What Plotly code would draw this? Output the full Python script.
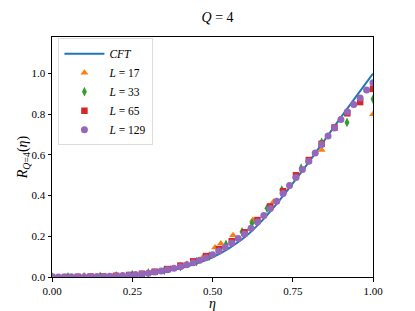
import plotly.graph_objects as go

# CFT curve
eta_cft = [0.00, 0.05, 0.10, 0.15, 0.20, 0.25, 0.30, 0.35, 0.40, 0.45, 0.50,
           0.55, 0.60, 0.65, 0.70, 0.75, 0.80, 0.85, 0.90, 0.95, 1.00]
r_cft = [0.0, 0.0002, 0.0008, 0.002, 0.0045, 0.009, 0.016, 0.027, 0.043, 0.066, 0.097,
         0.14, 0.195, 0.27, 0.36, 0.46, 0.565, 0.675, 0.785, 0.893, 1.0]

# L = 17
eta_17 = [0.00, 0.06, 0.125, 0.19, 0.25, 0.31, 0.37, 0.42, 0.47, 0.508, 0.526, 0.564,
          0.626, 0.69, 0.84, 1.00]
r_17 = [0.000, 0.000, 0.002, 0.005, 0.011, 0.022, 0.041, 0.065, 0.097, 0.145, 0.165, 0.205,
        0.280, 0.370, 0.625, 0.800]

# L = 33
eta_33 = [0.00, 0.05, 0.10, 0.15, 0.20, 0.25, 0.30, 0.35, 0.40, 0.45, 0.49, 0.542,
          0.592, 0.623, 0.67, 0.716, 0.776, 0.84, 0.919, 1.00]
r_33 = [0.000, 0.000, 0.001, 0.003, 0.006, 0.011, 0.020, 0.033, 0.051, 0.076, 0.103, 0.160,
        0.222, 0.265, 0.338, 0.428, 0.535, 0.662, 0.760, 0.875]

# L = 65
eta_65 = [0.00, 0.04, 0.08, 0.12, 0.16, 0.20, 0.24, 0.28, 0.32, 0.36, 0.40, 0.44, 0.48,
          0.52, 0.56, 0.60, 0.64, 0.68, 0.72, 0.76, 0.80, 0.84, 0.88, 0.92, 0.96, 1.00]
r_65 = [0.000, 0.000, 0.001, 0.002, 0.003, 0.006, 0.010, 0.016, 0.026, 0.039, 0.056, 0.077,
        0.103, 0.137, 0.176, 0.220, 0.280, 0.347, 0.422, 0.500, 0.575, 0.655, 0.735, 0.805,
        0.860, 0.925]

# L = 129
eta_129 = [0.00, 0.02, 0.04, 0.06, 0.08, 0.10, 0.12, 0.14, 0.16, 0.18, 0.20, 0.22, 0.24,
           0.26, 0.28, 0.30, 0.32, 0.34, 0.36, 0.38, 0.40, 0.42, 0.44, 0.46, 0.48, 0.50,
           0.52, 0.54, 0.56, 0.58, 0.60, 0.62, 0.64, 0.66, 0.68, 0.70, 0.72, 0.74, 0.76,
           0.78, 0.80, 0.82, 0.84, 0.86, 0.88, 0.90, 0.92, 0.94, 0.96, 0.98, 1.00]
r_129 = [0.000, 0.000, 0.000, 0.001, 0.001, 0.001, 0.002, 0.002, 0.003, 0.004, 0.005, 0.007,
         0.009, 0.012, 0.015, 0.019, 0.024, 0.030, 0.036, 0.043, 0.051, 0.060, 0.070, 0.082,
         0.095, 0.110, 0.128, 0.146, 0.167, 0.189, 0.211, 0.240, 0.270, 0.302, 0.337, 0.372,
         0.411, 0.450, 0.489, 0.529, 0.569, 0.610, 0.652, 0.693, 0.733, 0.774, 0.812, 0.848,
         0.880, 0.920, 0.955]

FONT = "Liberation Serif"

fig = go.Figure()
fig.add_trace(go.Scatter(x=eta_cft, y=r_cft, mode="lines", name="<i>CFT</i>",
                         line=dict(color="#1f77b4", width=2, shape="spline")))

series = [
    (eta_17, r_17, "<i>L</i> = 17", "#ff7f0e", "triangle-up", 7),
    (eta_33, r_33, "<i>L</i> = 33", "#2ca02c", "diamond-tall", 7),
    (eta_65, r_65, "<i>L</i> = 65", "#d62728", "square", 6.5),
    (eta_129, r_129, "<i>L</i> = 129", "#9467bd", "circle", 7),
]
for x, y, name, col, sym, sz in series:
    fig.add_trace(go.Scatter(
        x=x, y=y, mode="markers", name=name,
        marker=dict(color=col, symbol=sym, size=sz, line=dict(width=0)),
        error_y=dict(type="constant", value=0.006, color=col, thickness=1.2, width=0),
    ))

axis_common = dict(
    showgrid=False, zeroline=False, showline=True, linecolor="black", linewidth=1,
    mirror=True, ticks="outside", ticklen=3.5, tickcolor="black", tickwidth=1,
    tickfont=dict(family=FONT, size=11, color="black"), automargin=False,
)
fig.update_xaxes(range=[0, 1], tickvals=[0, 0.25, 0.5, 0.75, 1.0],
                 ticktext=["0.00", "0.25", "0.50", "0.75", "1.00"],
                 title=dict(text="<i>η</i>", font=dict(family=FONT, size=14, color="black"),
                            standoff=4),
                 **axis_common)
fig.update_yaxes(range=[0, 1.18], tickvals=[0, 0.2, 0.4, 0.6, 0.8, 1.0],
                 ticktext=["0.0", "0.2", "0.4", "0.6", "0.8", "1.0"],
                 title=dict(text="<i>R</i><sub><i>Q</i>=4</sub>(<i>η</i>)",
                            font=dict(family=FONT, size=14, color="black"), standoff=0),
                 **axis_common)

# page body has an 8px margin, so the figure is sized to fill the rest of the window
fig.update_layout(
    width=407, height=303,
    margin=dict(l=44, r=42, t=29, b=34),
    paper_bgcolor="white", plot_bgcolor="white",
    title=dict(text="<i>Q</i> = 4", x=0.515, xanchor="center", y=0.97, yanchor="middle",
               font=dict(family=FONT, size=14, color="black")),
    legend=dict(x=0.02, y=0.995, xanchor="left", yanchor="top",
                bgcolor="rgba(255,255,255,0.8)", bordercolor="#dddddd", borderwidth=1,
                font=dict(family=FONT, size=11.5, color="black"),
                tracegroupgap=0, itemwidth=40),
    showlegend=True,
)

fig.write_html("out.html")
